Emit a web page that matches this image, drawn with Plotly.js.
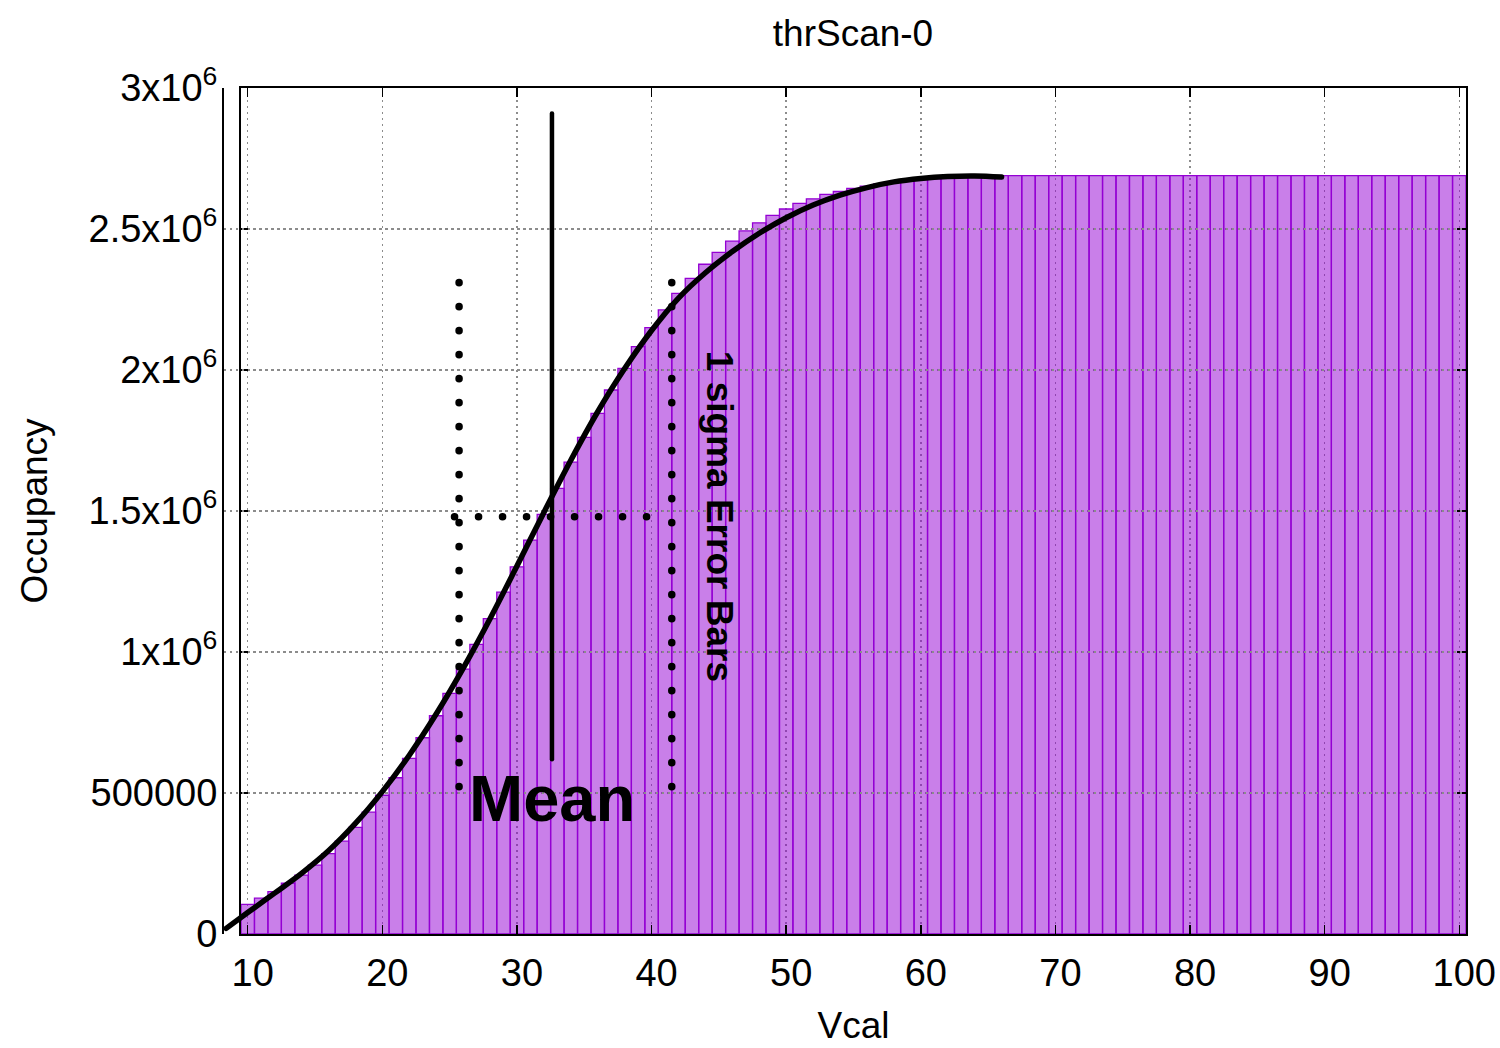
<!DOCTYPE html>
<html>
<head>
<meta charset="utf-8">
<script src="https://cdn.plot.ly/plotly-3.0.1.min.js"></script>
<style>
  html, body { margin: 0; padding: 0; background: #ffffff; }
  #chart { width: 1500px; height: 1048px; }
  /* round caps turn zero-length dashes into round dots */
  .scatterlayer .js-line { stroke-linecap: round; }
</style>
</head>
<body>
<div id="chart"></div>
<script>
// Threshold scan: occupancy per Vcal step
const vcal = [
  10, 11, 12, 13, 14, 15, 16, 17, 18, 19,
  20, 21, 22, 23, 24, 25, 26, 27, 28, 29,
  30, 31, 32, 33, 34, 35, 36, 37, 38, 39,
  40, 41, 42, 43, 44, 45, 46, 47, 48, 49,
  50, 51, 52, 53, 54, 55, 56, 57, 58, 59,
  60, 61, 62, 63, 64, 65, 66, 67, 68, 69,
  70, 71, 72, 73, 74, 75, 76, 77, 78, 79,
  80, 81, 82, 83, 84, 85, 86, 87, 88, 89,
  90, 91, 92, 93, 94, 95, 96, 97, 98, 99,
  100
];
const occupancy = [
  105000, 127000, 150000, 180000, 209000, 244000, 285000, 329000, 378000, 432000,
  492000, 554000, 623000, 696000, 774000, 853000, 939000, 1027000, 1118000, 1212000,
  1302000, 1397000, 1488000, 1580000, 1673000, 1761000, 1846000, 1929000, 2006000, 2083000,
  2150000, 2213000, 2272000, 2325000, 2375000, 2417000, 2457000, 2493000, 2522000, 2548000,
  2571000, 2591000, 2607000, 2623000, 2633000, 2644000, 2652000, 2660000, 2666000, 2671000,
  2675000, 2679000, 2682000, 2685000, 2687000, 2688000, 2689000, 2689000, 2689000, 2689000,
  2689000, 2689000, 2689000, 2689000, 2689000, 2689000, 2689000, 2689000, 2689000, 2689000,
  2689000, 2689000, 2689000, 2689000, 2689000, 2689000, 2689000, 2689000, 2689000, 2689000,
  2689000, 2689000, 2689000, 2689000, 2689000, 2689000, 2689000, 2689000, 2689000, 2689000,
  2689000
];

// S-curve fit through the scan
const fitVcal = [
  8.4, 10, 12, 14, 16, 18, 20, 22, 24, 26,
  28, 30, 32, 34, 36, 38, 40, 42, 44, 46,
  48, 50, 52, 54, 56, 58, 60, 62, 64, 66
];
const fitOccupancy = [
  20000, 76000, 145000, 215000, 295000, 392000, 505000, 634000, 780000, 942000,
  1118000, 1305000, 1495000, 1680000, 1852000, 2005000, 2140000, 2255000, 2345000, 2420000,
  2485000, 2540000, 2585000, 2620000, 2647000, 2667000, 2679000, 2686000, 2688000, 2684000
];

// Mean of the fit and its 1 sigma band
const meanVcal = [32.6, 32.6];
const meanOccupancy = [2910000, 620000];
const sigmaLowVcal = [25.7, 25.7];
const sigmaHighVcal = [41.5, 41.5];
const sigmaOccupancy = [2310000, 522000];
const crossVcal = [25.36, 39.72];
const crossOccupancy = [1480000, 1480000];

// Axis ticks
const xTicks = [10, 20, 30, 40, 50, 60, 70, 80, 90, 100];
const yTicks = [0, 500000, 1000000, 1500000, 2000000, 2500000, 3000000];
const yTickText = ['0', '500000', '1x10<sup>6</sup>', '1.5x10<sup>6</sup>',
                   '2x10<sup>6</sup>', '2.5x10<sup>6</sup>', '3x10<sup>6</sup>'];

const FONT = 'Liberation Sans, Arial, Helvetica, sans-serif';
const violet = 'rgb(148,0,211)';

const dots = { color: '#000000', width: 7.5, dash: '0.1px,23.9px' };

const traces = [
  {
    type: 'bar', x: vcal, y: occupancy, width: 1,
    marker: { color: 'rgba(148,0,211,0.5)', line: { color: violet, width: 1.3 } },
    hoverinfo: 'x+y'
  },
  { type: 'scatter', mode: 'lines', x: sigmaLowVcal, y: sigmaOccupancy, line: dots, hoverinfo: 'skip' },
  { type: 'scatter', mode: 'lines', x: sigmaHighVcal, y: sigmaOccupancy, line: dots, hoverinfo: 'skip' },
  { type: 'scatter', mode: 'lines', x: crossVcal, y: crossOccupancy, line: dots, hoverinfo: 'skip' },
  { type: 'scatter', mode: 'lines', x: meanVcal, y: meanOccupancy,
    line: { color: '#000000', width: 4.5 }, hoverinfo: 'skip' },
  // the fit runs on a wider twin x axis so it can start left of the frame
  { type: 'scatter', mode: 'lines', x: fitVcal, y: fitOccupancy, xaxis: 'x2', yaxis: 'y',
    line: { color: '#000000', width: 5.5, shape: 'spline', smoothing: 1 }, hoverinfo: 'skip' }
];

// pixel geometry of the frame
const W = 1500, H = 1048;
const mL = 200, mR = 34, mT = 88, mB = 114;
const plotW = W - mL - mR;
const frameLeft = 241;
const xMin = 9.5, xMax = 100.5;
const pxPerUnit = (W - mR - frameLeft) / (xMax - xMin);
const fitLeft = 224;

const axisCommon = {
  showline: true, linecolor: '#000000', linewidth: 2, mirror: 'all',
  ticks: 'inside', ticklen: 9, tickwidth: 1.5, tickcolor: '#000000',
  showgrid: true, gridcolor: '#8c8c8c', gridwidth: 1.5, griddash: '1.5px,4.5px',
  zeroline: false,
  tickfont: { family: FONT, size: 38, color: '#000000' }
};

const layout = {
  width: W, height: H,
  margin: { l: mL, r: mR, t: mT, b: mB, pad: 0 },
  paper_bgcolor: '#ffffff',
  plot_bgcolor: 'rgba(0,0,0,0)',
  showlegend: false,
  bargap: 0,
  font: { family: FONT, color: '#000000' },
  title: {
    text: 'thrScan-0',
    font: { family: FONT, size: 37, color: '#000000' },
    xref: 'container', x: 853 / W, xanchor: 'center',
    yref: 'container', y: 1 - 33 / H, yanchor: 'middle'
  },
  xaxis: Object.assign({}, axisCommon, {
    domain: [(frameLeft - mL) / plotW, 1],
    range: [xMin, xMax],
    tickmode: 'array', tickvals: xTicks,
    ticklabelshift: 5,
    ticklabelstandoff: 4,
    title: { text: 'Vcal', font: { family: FONT, size: 37, color: '#000000' }, standoff: 20 },
    anchor: 'y'
  }),
  xaxis2: {
    domain: [(fitLeft - mL) / plotW, 1],
    range: [xMin - (frameLeft - fitLeft) / pxPerUnit, xMax],
    visible: false, showticklabels: false, ticks: '', tickmode: 'array', tickvals: [],
    showgrid: false, zeroline: false, anchor: 'y'
  },
  yaxis: Object.assign({}, axisCommon, {
    range: [0, 3000000],
    tickmode: 'array', tickvals: yTicks, ticktext: yTickText,
    ticklabelstandoff: 14,
    title: { text: 'Occupancy', font: { family: FONT, size: 37, color: '#000000' }, standoff: 30 },
    anchor: 'x'
  }),
  annotations: [
    {
      xref: 'x', yref: 'y', x: 32.6, y: 480000,
      text: '<b>Mean</b>', showarrow: false,
      xanchor: 'center', yanchor: 'middle',
      font: { family: FONT, size: 65, color: '#000000' }
    },
    {
      xref: 'x', yref: 'y', x: 45.1, y: 1482000,
      text: '<b>1 sigma Error Bars</b>', showarrow: false, textangle: 90,
      xanchor: 'center', yanchor: 'middle',
      font: { family: FONT, size: 37, color: '#000000' }
    }
  ]
};

Plotly.newPlot('chart', traces, layout, { staticPlot: true, displayModeBar: false });
</script>
</body>
</html>
